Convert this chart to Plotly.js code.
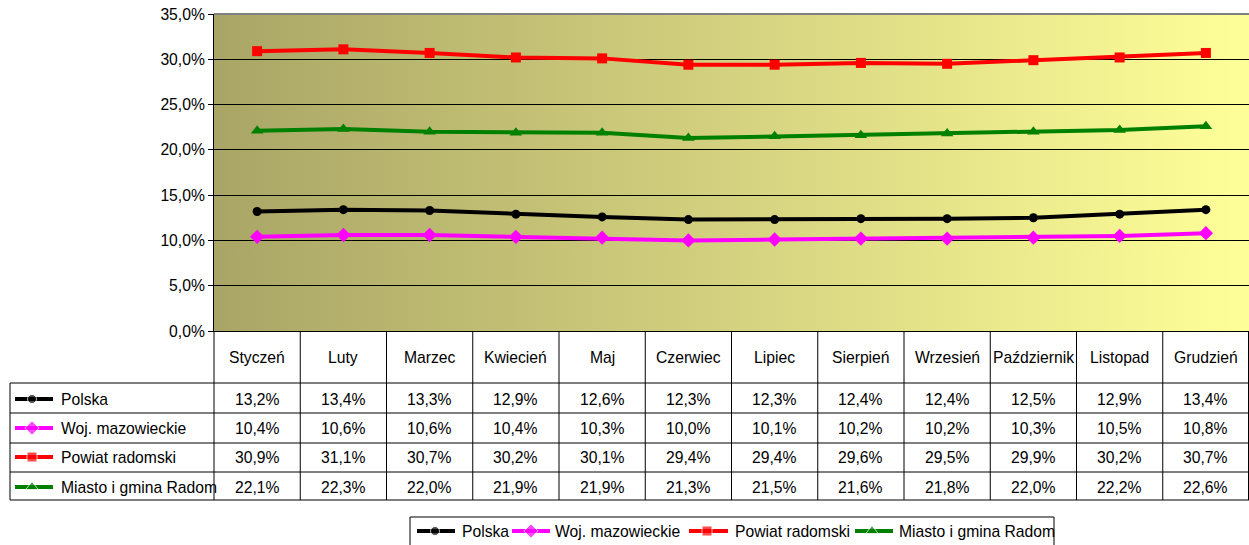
<!DOCTYPE html>
<html>
<head>
<meta charset="utf-8">
<script src="https://cdn.plot.ly/plotly-3.0.1.min.js"></script>
<style>html,body{margin:0;padding:0;background:#fff;}#chart{width:1249px;height:545px;}</style>
</head>
<body>
<div id="chart"></div>
<script>
// ---- data ----
var months = ['Styczeń','Luty','Marzec','Kwiecień','Maj','Czerwiec','Lipiec','Sierpień','Wrzesień','Październik','Listopad','Grudzień'];
var seriesNames = ['Polska','Woj. mazowieckie','Powiat radomski','Miasto i gmina Radom'];
var polska = [13.2,13.4,13.3,12.9,12.6,12.3,12.3,12.4,12.4,12.5,12.9,13.4];
var mazowieckie = [10.4,10.6,10.6,10.4,10.3,10.0,10.1,10.2,10.2,10.3,10.5,10.8];
var powiat = [30.9,31.1,30.7,30.2,30.1,29.4,29.4,29.6,29.5,29.9,30.2,30.7];
var radom = [22.1,22.3,22.0,21.9,21.9,21.3,21.5,21.6,21.8,22.0,22.2,22.6];
var yTicks = [0,5,10,15,20,25,30,35];

// ---- styling ----
var W = 1249, H = 545;
var PL = 214, PR = 1249, PT = 14, PB = 331;
var FONT = 'Liberation Sans, Arial, sans-serif';
var FS = 15.7;
var colors = ['#000000','#FF00FF','#FF0000','#008000'];
var symbols = ['circle','diamond','square','triangle-up'];
var msizes = [9,11,10,11];
var allSeries = [polska, mazowieckie, powiat, radom];

function fmt(v){ return v.toFixed(1).replace('.', ',') + '%'; }

var traces = [];
allSeries.forEach(function(s, i){
  traces.push({
    type:'scatter', mode:'lines+markers', x: months, y: s, name: seriesNames[i],
    xaxis:'x', yaxis:'y',
    line:{color:colors[i], width:4},
    marker:{color:colors[i], symbol:symbols[i], size:msizes[i]},
    showlegend:false, hoverinfo:'skip'
  });
});

var shapes = [], annotations = [];

// table
var colW = (PR - PL) / months.length;
var rowLines = [383, 413, 443, 472, 500];
var rowCenters = [399, 428, 457, 487];
for (var c = 0; c <= months.length; c++) {
  var xx = PL + colW * c; if (c === months.length) xx = W - 0.5;
  shapes.push({type:'line', xref:'x2', yref:'y2', x0:xx, x1:xx, y0:PB, y1:500, line:{color:'#000', width:1}});
}
shapes.push({type:'line', xref:'x2', yref:'y2', x0:10, x1:10, y0:383, y1:500, line:{color:'#000', width:1}});
rowLines.forEach(function(y){
  shapes.push({type:'line', xref:'x2', yref:'y2', x0:10, x1:W, y0:y, y1:y, line:{color:'#000', width:1}});
});
// plot-area top border
shapes.push({type:'line', xref:'x2', yref:'y2', x0:PL, x1:W, y0:PT, y1:PT, line:{color:'#808080', width:2}});

months.forEach(function(m, c){
  annotations.push({xref:'x2', yref:'y2', x: PL + colW*(c+0.5), y:357, text:m, showarrow:false,
    xanchor:'center', yanchor:'middle', font:{family:FONT, size:FS, color:'#000'}});
});
allSeries.forEach(function(s, r){
  s.forEach(function(v, c){
    annotations.push({xref:'x2', yref:'y2', x: PL + colW*(c+0.5), y:rowCenters[r], text:fmt(v), showarrow:false,
      xanchor:'center', yanchor:'middle', font:{family:FONT, size:FS, color:'#000'}});
  });
  annotations.push({xref:'x2', yref:'y2', x:59, y:rowCenters[r], text:seriesNames[r], showarrow:false,
    xanchor:'left', yanchor:'middle', font:{family:FONT, size:FS, color:'#000'}});
  traces.push({type:'scatter', mode:'lines+markers', xaxis:'x2', yaxis:'y2',
    x:[15,32,53], y:[rowCenters[r],rowCenters[r],rowCenters[r]],
    line:{color:colors[r], width:4}, marker:{color:colors[r], symbol:symbols[r], size:[0,msizes[r],0]},
    showlegend:false, hoverinfo:'skip'});
});

// bottom legend
shapes.push({type:'rect', xref:'x2', yref:'y2', x0:410, x1:1054, y0:517, y1:570, line:{color:'#000', width:1}, fillcolor:'rgba(0,0,0,0)'});
var legX = [[417,435,455,460],[512,531,550,553],[689,707,728,733],[855,872,893,897]];
var legY = 531;
legX.forEach(function(p, i){
  traces.push({type:'scatter', mode:'lines+markers', xaxis:'x2', yaxis:'y2',
    x:[p[0],p[1],p[2]], y:[legY,legY,legY],
    line:{color:colors[i], width:4}, marker:{color:colors[i], symbol:symbols[i], size:[0,msizes[i],0]},
    showlegend:false, hoverinfo:'skip'});
  annotations.push({xref:'x2', yref:'y2', x:p[3], y:legY, text:seriesNames[i], showarrow:false,
    xanchor:'left', yanchor:'middle', font:{family:FONT, size:FS, color:'#000'}});
});

// gradient background
var svg = '<svg xmlns="http://www.w3.org/2000/svg" width="100" height="100" preserveAspectRatio="none">' +
  '<defs><linearGradient id="g" x1="0" y1="0" x2="1" y2="0">' +
  '<stop offset="0" stop-color="#A9A566"/><stop offset="1" stop-color="#FFFF99"/></linearGradient></defs>' +
  '<rect width="100" height="100" fill="url(#g)"/></svg>';
var img = 'data:image/svg+xml;charset=utf-8,' + encodeURIComponent(svg);

var layout = {
  width: W, height: H,
  margin:{l:0, r:0, t:0, b:0, pad:0},
  paper_bgcolor:'#fff', plot_bgcolor:'rgba(0,0,0,0)',
  showlegend:false,
  font:{family:FONT, size:FS, color:'#000'},
  xaxis:{domain:[PL/W, 1], type:'category', categoryarray:months, range:[-0.5, months.length-0.5],
    showticklabels:false, ticks:'', showgrid:false, zeroline:false, showline:true, linecolor:'#000', linewidth:1, fixedrange:true},
  yaxis:{domain:[1-PB/H, 1-PT/H], range:[0,35], tickmode:'array', tickvals:yTicks, ticktext:yTicks.map(fmt),
    showgrid:true, gridcolor:'#000', gridwidth:1, zeroline:false, showline:true, linecolor:'#000', linewidth:1,
    ticks:'outside', ticklen:5, tickcolor:'#000', tickfont:{family:FONT, size:FS, color:'#000'}, fixedrange:true},
  xaxis2:{domain:[0,1], range:[0,W], visible:false, anchor:'y2', fixedrange:true},
  yaxis2:{domain:[0,1], range:[H,0], visible:false, anchor:'x2', fixedrange:true},
  images:[{source:img, xref:'paper', yref:'paper', x:PL/W, y:1-PT/H, sizex:(PR-PL)/W, sizey:(PB-PT)/H,
    xanchor:'left', yanchor:'top', sizing:'stretch', layer:'below'}],
  shapes: shapes,
  annotations: annotations
};

Plotly.newPlot('chart', traces, layout, {displayModeBar:false, staticPlot:true});
</script>
</body>
</html>
